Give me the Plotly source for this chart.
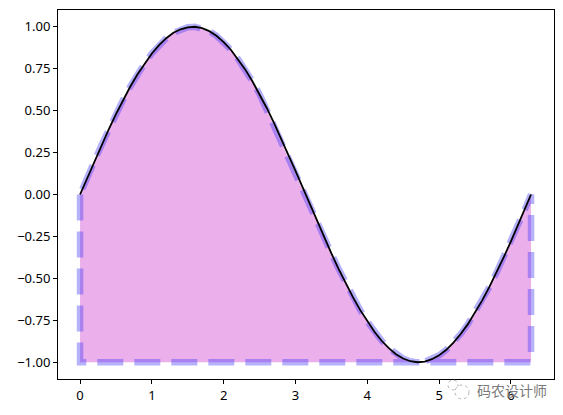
import plotly.graph_objects as go

x_vals = [0, 0.1, 0.2, 0.3, 0.4, 0.5, 0.6, 0.7, 0.8, 0.9, 1.0, 1.1, 1.2, 1.3, 1.4, 1.5, 1.6, 1.7, 1.8, 1.9, 2.0,
          2.1, 2.2, 2.3, 2.4, 2.5, 2.6, 2.7, 2.8, 2.9, 3.0, 3.1, 3.2, 3.3, 3.4, 3.5, 3.6, 3.7, 3.8, 3.9, 4.0,
          4.1, 4.2, 4.3, 4.4, 4.5, 4.6, 4.7, 4.8, 4.9, 5.0, 5.1, 5.2, 5.3, 5.4, 5.5, 5.6, 5.7, 5.8, 5.9, 6.0,
          6.1, 6.2, 6.28]
y_vals = [0, 0.1, 0.199, 0.296, 0.389, 0.479, 0.565, 0.644, 0.717, 0.783, 0.841, 0.891, 0.932, 0.964, 0.985, 0.997, 1.0, 0.992, 0.974, 0.946, 0.909,
          0.863, 0.808, 0.746, 0.675, 0.598, 0.516, 0.427, 0.335, 0.239, 0.141, 0.042, -0.058, -0.158, -0.256, -0.351, -0.443, -0.53, -0.612, -0.688, -0.757,
          -0.818, -0.872, -0.916, -0.952, -0.978, -0.994, -1.0, -0.996, -0.982, -0.959, -0.926, -0.883, -0.832, -0.773, -0.706, -0.631, -0.551, -0.465, -0.374, -0.279,
          -0.182, -0.083, 0]
baseline = -1.0
x_ticks = [0, 1, 2, 3, 4, 5, 6]
y_ticks = [1.0, 0.75, 0.5, 0.25, 0.0, -0.25, -0.5, -0.75, -1.0]
y_labels = ["1.00", "0.75", "0.50", "0.25", "0.00", "−0.25", "−0.50", "−0.75", "−1.00"]
watermark = "码农设计师"

FONT = "Noto Sans, Noto Sans CJK SC, sans-serif"
WM_FONT = "Noto Sans CJK SC, sans-serif"

# page has an 8px body margin
L, T, R, B = 58, 10, 554, 379
PW, PH = R - L, B - T


def px(v):
    return (v - L) / PW


def py(v):
    return (B - v) / PH


fig = go.Figure()
fig.add_trace(go.Scatter(
    x=[x_vals[0], x_vals[0], x_vals[-1]] + x_vals[::-1],
    y=[y_vals[0], baseline, baseline] + y_vals[::-1],
    mode="lines", fill="toself", fillcolor="#EBB0EC",
    line=dict(color="rgba(60,50,245,0.38)", width=6.5, dash="26px,11px"),
    hoverinfo="skip", showlegend=False,
))
fig.add_trace(go.Scatter(
    x=x_vals, y=y_vals, mode="lines",
    line=dict(color="black", width=1.8),
    hoverinfo="skip", showlegend=False,
))
axis = dict(showgrid=False, zeroline=False, showline=True, mirror=True, linecolor="black", linewidth=1,
            ticks="outside", ticklen=4, tickwidth=1, tickcolor="black",
            tickfont=dict(size=13, color="black", family=FONT))


def circle(cx, cy, r):
    return dict(type="circle", xref="paper", yref="paper",
                x0=px(cx - r), x1=px(cx + r), y0=py(cy + r), y1=py(cy - r),
                fillcolor="white", line=dict(color="#b5b5b5", width=1, dash="dot"), layer="above")


fig.update_layout(
    width=555, height=407, autosize=False,
    margin=dict(l=L - 8, r=563 - R, t=T - 8, b=415 - B),
    paper_bgcolor="white", plot_bgcolor="white",
    xaxis=dict(range=[-0.307, 6.6], tickvals=x_ticks, **axis),
    yaxis=dict(range=[-1.1, 1.1], tickvals=y_ticks, ticktext=y_labels, **axis),
    shapes=[circle(453, 385, 5), circle(462, 392, 7)],
    annotations=[dict(
        text=watermark, xref="paper", yref="paper", x=px(511.5), y=py(389.5),
        xanchor="center", yanchor="middle", showarrow=False,
        font=dict(size=14, color="#7a7a7a", family=WM_FONT),
    )],
)
fig.write_html("out.html")
